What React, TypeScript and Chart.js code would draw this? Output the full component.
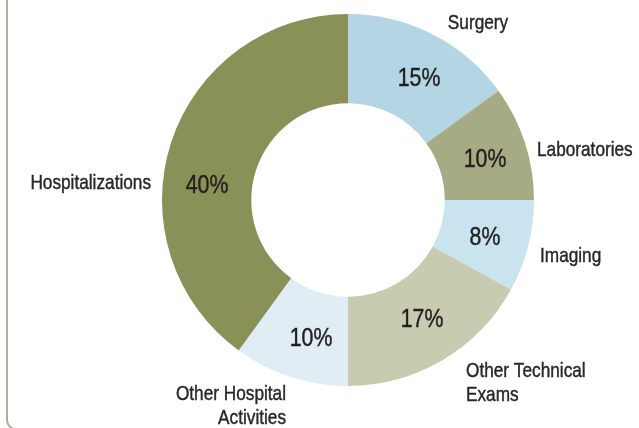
import React, { useEffect, useRef } from "react";
import { Chart, registerables } from "chart.js";

Chart.register(...registerables);

const categories = [
  "Surgery",
  "Laboratories",
  "Imaging",
  "Other Technical Exams",
  "Other Hospital Activities",
  "Hospitalizations",
];
const shares = [15, 10, 8, 17, 10, 40];
const sliceColors = ["#b4d5e4", "#a7ab85", "#c9e3ef", "#c8cbb0", "#e0edf4", "#899159"];

// label text lines (outside the ring)
const outsideLines = [
  ["Surgery"],
  ["Laboratories"],
  ["Imaging"],
  ["Other Technical", "Exams"],
  ["Other Hospital", "Activities"],
  ["Hospitalizations"],
];
// placement of outside labels relative to the ring centre: [dx, dy(baseline), align]
const outsidePlace: [number, number, CanvasTextAlign][] = [
  [130, -171, "center"],
  [189, -44, "left"],
  [192, 62, "left"],
  [118, 177, "left"],
  [-62, 200, "right"],
  [-197, -11, "right"],
];
// placement of percentage labels relative to the ring centre (baseline)
const pctPlace: [number, number][] = [
  [71, -114],
  [137, -33],
  [137, 45],
  [74, 127],
  [-37, 146],
  [-141, -7],
];

const FONT = '"Liberation Sans", Arial, sans-serif';
const NARROW = 0.82;

function narrowText(ctx: CanvasRenderingContext2D, text: string, x: number, y: number) {
  ctx.save();
  ctx.translate(x, y);
  ctx.scale(NARROW, 1);
  ctx.fillText(text, 0, 0);
  ctx.strokeText(text, 0, 0);
  ctx.restore();
}

const labelPlugin = {
  id: "sliceLabels",
  afterDraw(chart: any) {
    const meta = chart.getDatasetMeta(0);
    const ctx = chart.ctx as CanvasRenderingContext2D;
    if (!meta.data.length) return;
    const cx = meta.data[0].x;
    const cy = meta.data[0].y;
    const R = meta.data[0].outerRadius;
    const k = R / 186;
    ctx.save();
    ctx.textBaseline = "alphabetic";
    ctx.lineWidth = 0.45;
    meta.data.forEach((arc: any, i: number) => {
      ctx.fillStyle = "#231f20";
      ctx.strokeStyle = "#231f20";
      ctx.font = `26px ${FONT}`;
      ctx.textAlign = "center";
      const [px, py] = pctPlace[i];
      narrowText(ctx, `${shares[i]}%`, cx + px * k, cy + py * k);

      ctx.fillStyle = "#2a2728";
      ctx.strokeStyle = "#2a2728";
      ctx.font = `21px ${FONT}`;
      const [ox, oy, al] = outsidePlace[i];
      ctx.textAlign = al;
      outsideLines[i].forEach((line, j) => {
        narrowText(ctx, line, cx + ox * k, cy + oy * k + j * 24);
      });
    });
    ctx.restore();
  },
};

export default function App() {
  const ref = useRef<HTMLCanvasElement | null>(null);
  useEffect(() => {
    if (!ref.current) return;
    const chart = new Chart(ref.current, {
      type: "doughnut",
      data: {
        labels: categories,
        datasets: [
          {
            data: shares,
            backgroundColor: sliceColors,
            borderWidth: 0,
          },
        ],
      },
      options: {
        responsive: false,
        animation: false,
        cutout: "52%",
        rotation: 0,
        layout: { padding: { left: 162, right: 105, top: 14, bottom: 42 } },
        plugins: {
          legend: { display: false },
          tooltip: { enabled: false },
        },
      },
      plugins: [labelPlugin],
    });
    return () => chart.destroy();
  }, []);
  return (
    <div
      style={{
        position: "fixed",
        left: 0,
        top: 0,
        width: 639,
        height: 428,
        overflow: "hidden",
        background: "#ffffff",
      }}
    >
      <div
        style={{
          position: "absolute",
          left: 6,
          top: -20,
          width: 700,
          height: 450,
          border: "2px solid #b3ab9b",
          borderRadius: 10,
          boxSizing: "border-box",
        }}
      />
      <canvas
        ref={ref}
        width={639}
        height={428}
        style={{ position: "absolute", left: 0, top: 0, display: "block" }}
      />
    </div>
  );
}
